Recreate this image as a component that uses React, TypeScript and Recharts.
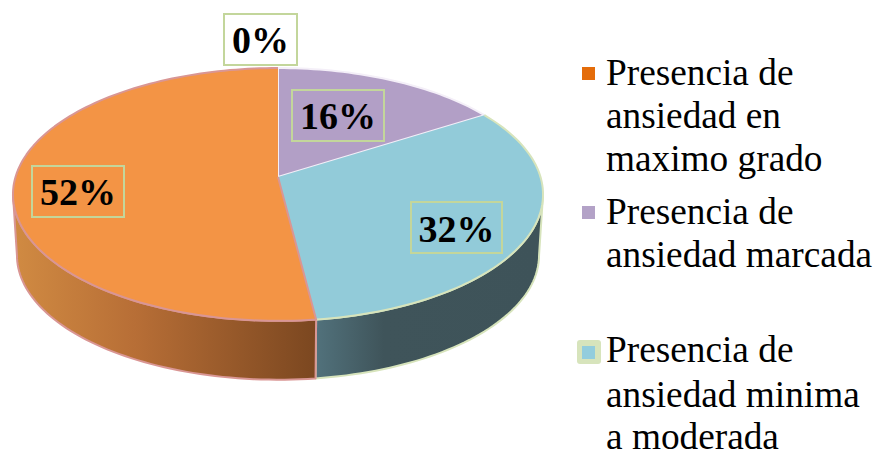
import { PieChart, Pie, Legend } from "recharts";

const categories = [
  "Sin dato",
  "Presencia de ansiedad marcada",
  "Presencia de ansiedad minima a moderada",
  "Presencia de ansiedad en maximo grado",
];
const values = [0, 16, 32, 52];
const percentLabels = ["0%", "16%", "32%", "52%"];

const legendEntries = [
  { color: "#e46c0a", lines: ["Presencia de", "ansiedad en", "maximo grado"] },
  { color: "#b3a2c7", lines: ["Presencia de", "ansiedad marcada"] },
  { color: "#93cddd", lines: ["Presencia de", "ansiedad minima", "a moderada"] },
];

const chartData = categories.map((name, i) => ({ name, value: values[i] }));

const WIDTH = 875;
const HEIGHT = 451;
const CX = 278;
const CY = 177;
const RADIUS = 262.5;

// tilt of the disc: vertical squash and perspective strength
const SQUASH = 0.4724;
const PERSPECTIVE = -0.138;
// the lower rim sits this far below the top rim and slightly narrower
const DEPTH = 61;
const DEPTH_SCALE = 0.985;
// only this angle range of the rim faces the viewer (widest points of the disc)
const FRONT_LEFT = -172.1;
const FRONT_RIGHT = -7.9;

const TOP_FILLS = ["none", "#b29fc6", "#92cbd9", "#f39445"];
const WALL_FILLS = ["none", "#8d7e9e", "url(#wallTeal)", "url(#wallOrange)"];
const WALL_STROKES = ["none", "none", "#d7e4bc", "#d99694"];

// label boxes, in chart coordinates
const BOXES = [
  { x: 224, y: 14, w: 73, h: 51, base: 53 },
  { x: 292, y: 90, w: 92, h: 51, base: 129 },
  { x: 411, y: 202, w: 91, h: 51, base: 242 },
  { x: 32, y: 166, w: 92, h: 51, base: 205 },
];

function project(deg: number, cx: number, cy: number, r: number) {
  const a = (deg * Math.PI) / 180;
  const u = Math.cos(a);
  const v = -Math.sin(a);
  const w = 1 + PERSPECTIVE * v;
  return { x: cx + (r * u) / w, y: cy + (r * SQUASH * v) / w };
}

function arcPoints(start: number, end: number, cx: number, cy: number, r: number) {
  const steps = Math.max(2, Math.ceil(Math.abs(end - start) / 1.5));
  const pts = [];
  for (let i = 0; i <= steps; i++) {
    pts.push(project(start + ((end - start) * i) / steps, cx, cy, r));
  }
  return pts;
}

function toPath(pts: { x: number; y: number }[], close = false) {
  const d = pts.map((p, i) => `${i ? "L" : "M"}${p.x.toFixed(2)} ${p.y.toFixed(2)}`).join(" ");
  return close ? d + " Z" : d;
}

function TopSlice(props: any) {
  const { cx, cy, outerRadius, startAngle, endAngle, index } = props;
  if (startAngle === endAngle) return null;
  const arc = arcPoints(startAngle, endAngle, cx, cy, outerRadius);
  const apex = { x: cx, y: cy };
  const fill = toPath([apex, ...arc], true);
  // each seam is stroked by one slice only, so the colours don't fight
  if (index === 1) {
    return <path d={fill} fill={TOP_FILLS[index]} stroke="#f4eff8" strokeWidth={2} strokeLinejoin="round" />;
  }
  const outline = index === 2 ? toPath(arc) : toPath([apex, ...arc]);
  return (
    <g>
      <path d={fill} fill={TOP_FILLS[index]} />
      <path
        d={outline}
        fill="none"
        stroke={index === 2 ? "#d7e4bc" : "#d99694"}
        strokeWidth={2}
        strokeLinejoin="round"
      />
    </g>
  );
}

function WallSlice(props: any) {
  const { cx, cy, outerRadius, startAngle, endAngle, index } = props;
  const from = Math.min(startAngle, FRONT_RIGHT);
  const to = Math.max(endAngle, FRONT_LEFT);
  if (from <= to) return null;
  const upper = arcPoints(from, to, cx, cy, outerRadius);
  const lower = arcPoints(from, to, cx, cy + DEPTH, outerRadius * DEPTH_SCALE).reverse();
  return (
    <path
      d={toPath([...upper, ...lower], true)}
      fill={WALL_FILLS[index]}
      stroke={WALL_STROKES[index]}
      strokeWidth={2}
      strokeLinejoin="round"
    />
  );
}

function renderLabel(props: any) {
  const { index } = props;
  const b = BOXES[index];
  return (
    <g key={index}>
      <rect x={b.x} y={b.y} width={b.w} height={b.h} fill="none" stroke="#c3d69b" strokeWidth={2} />
      <text
        x={b.x + b.w / 2}
        y={b.base}
        textAnchor="middle"
        fontFamily="'Liberation Serif', serif"
        fontWeight={700}
        fontSize={38}
        fill="#000"
      >
        {percentLabels[index]}
      </text>
    </g>
  );
}

function LegendBlock() {
  const swatchTops = [67, 206, 346];
  const baselines = [
    [85, 128, 171],
    [224, 267],
    [362, 407, 449],
  ];
  return (
    <svg width={WIDTH} height={HEIGHT} style={{ display: "block" }}>
      {legendEntries.map((entry, i) => (
        <g key={i}>
          {i === 2 && <rect x={577} y={340} width={24} height={24} rx={3} fill="#d7e4bc" />}
          <rect x={582} y={swatchTops[i]} width={13} height={13} fill={entry.color} />
          {entry.lines.map((line, j) => (
            <text
              key={j}
              x={606}
              y={baselines[i][j]}
              fontFamily="'Liberation Serif', serif"
              fontSize={37.3}
              fill="#000"
            >
              {line}
            </text>
          ))}
        </g>
      ))}
    </svg>
  );
}

export default function App() {
  return (
    <div style={{ position: "absolute", left: 0, top: 0, width: WIDTH, height: HEIGHT, background: "#fff" }}>
      <PieChart width={WIDTH} height={HEIGHT} margin={{ top: 0, right: 0, bottom: 0, left: 0 }}>
        <defs>
          <linearGradient id="wallOrange" gradientUnits="userSpaceOnUse" x1={16} y1={0} x2={316} y2={0}>
            <stop offset="0%" stopColor="#d08a42" />
            <stop offset="40%" stopColor="#b76e36" />
            <stop offset="100%" stopColor="#7b4720" />
          </linearGradient>
          <linearGradient id="wallTeal" gradientUnits="userSpaceOnUse" x1={317} y1={0} x2={540} y2={0}>
            <stop offset="0%" stopColor="#51717b" />
            <stop offset="30%" stopColor="#3f545a" />
            <stop offset="100%" stopColor="#3e5359" />
          </linearGradient>
        </defs>
        <Pie
          data={chartData}
          dataKey="value"
          nameKey="name"
          cx={CX}
          cy={CY}
          outerRadius={RADIUS}
          startAngle={90}
          endAngle={-270}
          shape={WallSlice}
          legendType="none"
          isAnimationActive={false}
        />
        <Pie
          data={chartData}
          dataKey="value"
          nameKey="name"
          cx={CX}
          cy={CY}
          outerRadius={RADIUS}
          startAngle={90}
          endAngle={-270}
          shape={TopSlice}
          label={renderLabel}
          labelLine={false}
          legendType="none"
          isAnimationActive={false}
        />
        <Legend
          content={() => <LegendBlock />}
          wrapperStyle={{ position: "absolute", left: 0, top: 0, bottom: "auto", width: WIDTH, height: HEIGHT, pointerEvents: "none" }}
        />
      </PieChart>
    </div>
  );
}
